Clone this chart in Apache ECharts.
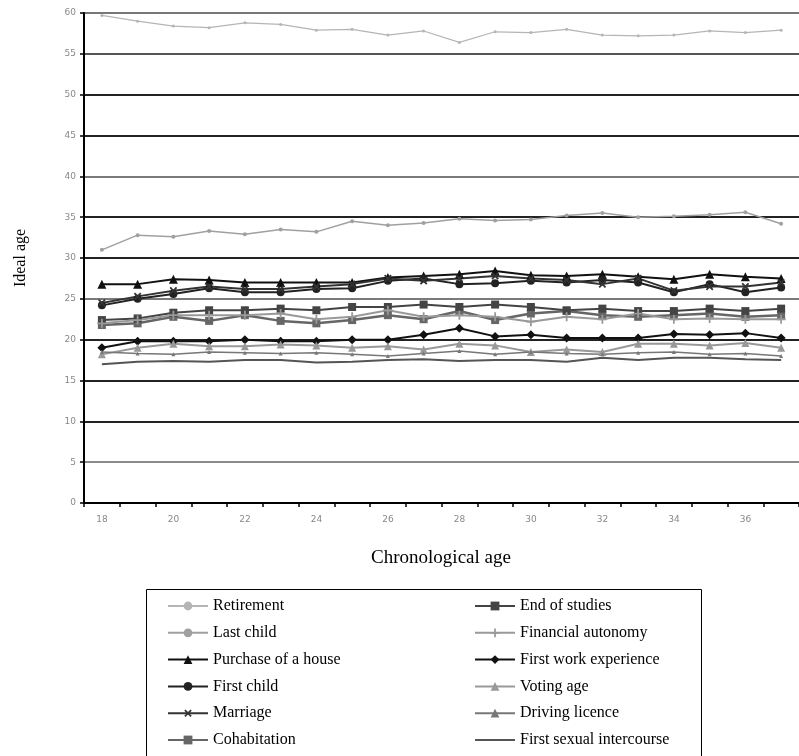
<!DOCTYPE html>
<html>
<head>
<meta charset="utf-8">
<script src="https://cdn.jsdelivr.net/npm/echarts@6/dist/echarts.min.js"></script>
<style>html,body{margin:0;padding:0;background:#fff}#c{width:799px;height:756px}</style>
</head>
<body>
<div id="c"></div>
<script>
const ages = ['18','19','20','21','22','23','24','25','26','27','28','29','30','31','32','33','34','35','36','37'];
const yTicks = [0,5,10,15,20,25,30,35,40,45,50,55,60];

const retirement   = [59.7,59.0,58.4,58.2,58.8,58.6,57.9,58.0,57.3,57.8,56.4,57.7,57.6,58.0,57.3,57.2,57.3,57.8,57.6,57.9];
const lastChild    = [31.0,32.8,32.6,33.3,32.9,33.5,33.2,34.5,34.0,34.3,34.8,34.6,34.7,35.2,35.5,35.0,35.1,35.3,35.6,34.2];
const purchase     = [26.8,26.8,27.4,27.3,27.0,27.0,27.0,27.0,27.6,27.8,28.0,28.4,27.9,27.8,28.0,27.7,27.4,28.0,27.7,27.5];
const firstChild   = [24.2,25.0,25.6,26.3,25.8,25.8,26.2,26.3,27.2,27.5,26.8,26.9,27.2,27.0,27.3,27.0,25.8,26.8,25.8,26.4];
const marriage     = [24.5,25.3,26.0,26.5,26.2,26.2,26.5,26.8,27.5,27.2,27.5,27.8,27.5,27.3,26.8,27.5,26.0,26.5,26.5,27.0];
const cohabitation = [21.8,22.0,22.8,22.3,23.0,22.3,22.0,22.4,23.0,22.5,23.5,22.4,23.2,23.5,23.0,22.8,23.0,23.2,22.8,23.0];
const endStudies   = [22.4,22.6,23.3,23.6,23.6,23.8,23.6,24.0,24.0,24.3,24.0,24.3,24.0,23.6,23.8,23.5,23.5,23.8,23.5,23.8];
const financial    = [22.0,22.4,23.0,23.0,23.0,23.2,22.5,22.8,23.6,22.8,23.0,22.8,22.2,22.8,22.5,23.2,22.5,22.6,22.5,22.5];
const firstWork    = [19.0,19.8,19.8,19.8,20.0,19.8,19.8,20.0,20.0,20.6,21.4,20.4,20.6,20.2,20.2,20.2,20.7,20.6,20.8,20.2];
const voting       = [18.2,19.0,19.5,19.2,19.2,19.4,19.3,19.0,19.2,18.8,19.5,19.3,18.5,18.8,18.5,19.5,19.5,19.3,19.6,19.0];
const driving      = [18.5,18.3,18.2,18.5,18.4,18.3,18.4,18.2,18.0,18.3,18.6,18.2,18.5,18.3,18.2,18.4,18.5,18.2,18.3,18.0];
const firstSex     = [17.0,17.3,17.4,17.3,17.5,17.5,17.2,17.3,17.5,17.6,17.4,17.5,17.5,17.3,17.8,17.5,17.8,17.8,17.6,17.5];

const namesLeft  = ['Retirement','Last child','Purchase of a house','First child','Marriage','Cohabitation'];
const namesRight = ['End of studies','Financial autonomy','First work experience','Voting age','Driving licence','First sexual intercourse'];

const PLUS = 'path://M4,0H6V4H10V6H6V10H4V6H0V4H4Z';

function s(name, data, color, width, symbol, size, rotate) {
  return {
    name, type: 'line', data,
    symbol: symbol || 'none', symbolSize: size || 6, symbolRotate: rotate || 0,
    showSymbol: !!symbol,
    lineStyle: {color, width},
    itemStyle: {color},
    emphasis: {disabled: true},
    animation: false
  };
}

const chart = echarts.init(document.getElementById('c'), null, {renderer: 'canvas'});
const serif = '"Liberation Serif", "DejaVu Serif", serif';
const legendCommon = {
  orient: 'vertical', itemWidth: 40, itemHeight: 11, itemGap: 10.8, height: 220,
  textStyle: {fontFamily: serif, fontSize: 16, color: '#000'},
  selectedMode: false
};
const rightLegendData = namesRight.map(n => n === 'First sexual intercourse' ? {name: n, itemStyle: {opacity: 0}} : n);
chart.setOption({
  backgroundColor: '#fff',
  animation: false,
  grid: {left: 84, top: 13, width: 728, bottom: 253},
  xAxis: {
    type: 'category', data: ages, boundaryGap: true,
    axisLine: {lineStyle: {color: '#000', width: 2}},
    axisTick: {show: true, interval: 0, length: 4, lineStyle: {color: '#000', width: 1.5}},
    axisLabel: {interval: 1, color: '#888', fontSize: 9, margin: 12, fontFamily: 'DejaVu Sans'},
    splitLine: {show: false}
  },
  yAxis: {
    type: 'value', min: yTicks[0], max: yTicks[yTicks.length - 1], interval: 5,
    name: 'Ideal age', nameLocation: 'middle', nameRotate: 90, nameGap: 55,
    nameTextStyle: {fontFamily: serif, fontSize: 16, color: '#000'},
    axisLine: {show: true, lineStyle: {color: '#000', width: 2}},
    axisTick: {show: true, length: 4, lineStyle: {color: '#000', width: 1.5}},
    axisLabel: {color: '#888', fontSize: 9, margin: 8, fontFamily: 'DejaVu Sans'},
    splitLine: {show: true, lineStyle: {width: 2,
      color: ['#cfcfcf','#8a8a8a','#222','#222','#222','#7a7a7a','#222','#222','#7a7a7a','#222','#222','#555','#777']}}
  },
  legend: [
    Object.assign({data: namesLeft, left: 162, top: 593}, legendCommon),
    Object.assign({data: rightLegendData, left: 469, top: 593}, legendCommon)
  ],
  graphic: [
    {type: 'rect', shape: {x: 146.5, y: 589.5, width: 555, height: 180}, style: {fill: 'none', stroke: '#000', lineWidth: 1}, z: -1},
    {type: 'text', style: {text: 'Chronological age', x: 441, y: 558, font: '19px ' + serif, fill: '#000', textAlign: 'center', textVerticalAlign: 'middle'}}
  ],
  series: [
    s('Retirement', retirement, '#b5b5b5', 1.2, 'circle', 3),
    s('Last child', lastChild, '#a0a0a0', 1.5, 'circle', 4),
    s('Purchase of a house', purchase, '#111', 2, 'triangle', 9),
    s('First child', firstChild, '#222', 2, 'circle', 8),
    s('Marriage', marriage, '#333', 2, PLUS, 9, 45),
    s('Cohabitation', cohabitation, '#666', 2.5, 'rect', 8),
    s('End of studies', endStudies, '#444', 2, 'rect', 8),
    s('Financial autonomy', financial, '#999', 2, PLUS, 9),
    s('First work experience', firstWork, '#111', 2, 'diamond', 9),
    s('Voting age', voting, '#999', 2, 'triangle', 8),
    s('Driving licence', driving, '#777', 1.5, 'triangle', 4),
    s('First sexual intercourse', firstSex, '#555', 2, null)
  ]
});
</script>
</body>
</html>
